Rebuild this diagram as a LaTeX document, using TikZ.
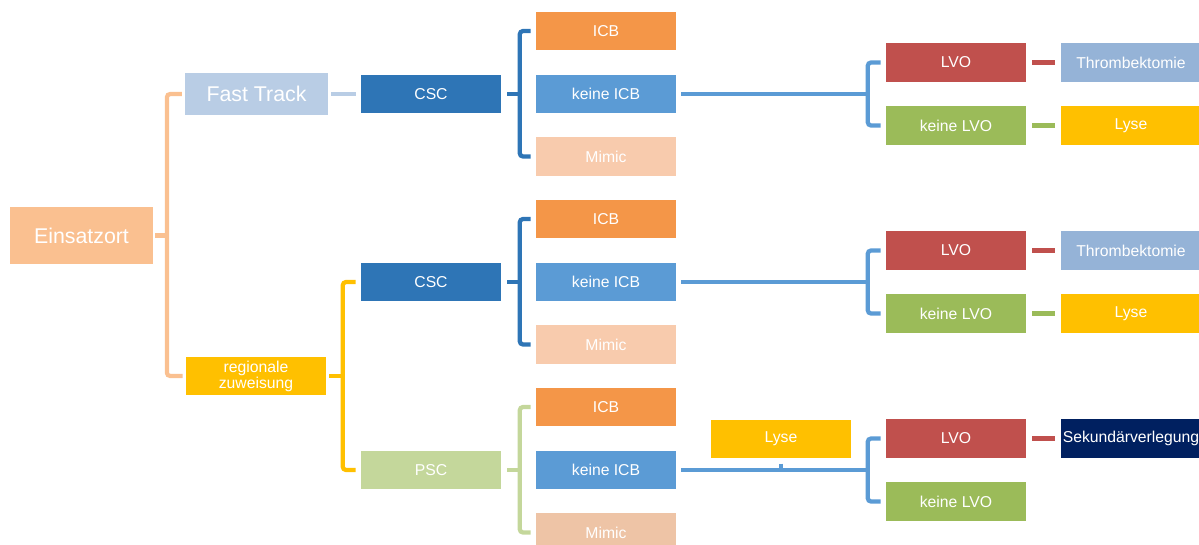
\documentclass[tikz,border=0pt]{standalone}
\usepackage{fontspec}
\setmainfont{Liberation Sans}
\usetikzlibrary{positioning}
\definecolor{peach}{RGB}{250,192,144}
\definecolor{skyfade}{RGB}{185,205,229}
\definecolor{gold}{RGB}{255,192,0}
\definecolor{deepblue}{RGB}{46,117,182}
\definecolor{midblue}{RGB}{91,155,213}
\definecolor{tangerine}{RGB}{244,150,72}
\definecolor{blush}{RGB}{248,203,173}
\definecolor{tan}{RGB}{238,196,166}
\definecolor{brick}{RGB}{192,80,77}
\definecolor{steel}{RGB}{149,179,215}
\definecolor{olive}{RGB}{155,187,89}
\definecolor{sage}{RGB}{196,215,155}
\definecolor{navy}{RGB}{0,32,96}

\begin{document}
\begin{tikzpicture}[x=0.75pt,y=-0.75pt,
    box/.style={minimum width=105pt,minimum height=29pt,inner sep=0pt,text=white,font=\fontsize{11.8}{12}\selectfont},
    big/.style={font=\fontsize{16}{18}\selectfont},
    bar/.style={line width=3.2pt,rounded corners=2.5pt}]
        \useasboundingbox (0,0) rectangle (1199,544);
        \node[box,big,fill=peach,minimum width=107pt,minimum height=43pt] (einsatz) at (81.5,235.5) {Einsatzort};
        \node[box,big,fill=skyfade,minimum width=107pt,minimum height=31.5pt] (fast) at (256.5,94) {Fast Track};
        \node[box,fill=gold,align=center] (regional) at (256,376) {regionale\\zuweisung};
        \draw[bar,peach] ([xshift=1.5pt]einsatz.east) -- ++(12,0);
        \draw[bar,peach] ([xshift=-2.25pt]fast.west) -- ++(-15,0) |- ([xshift=-2.25pt]regional.west);
        \foreach \g/\y/\hub/\hubfill/\mimfill in {1/94/CSC/deepblue/blush,2/282/CSC/deepblue/blush,3/470/PSC/sage/tan}{
          \node[box,fill=\hubfill] (hub\g) at (431,\y) {\hub};
          \node[box,fill=tangerine] (icb\g) at (606,\y-63) {ICB};
          \node[box,fill=midblue] (kicb\g) at (606,\y) {keine ICB};
          \node[box,fill=\mimfill] (mimic\g) at (606,\y+62.5) {Mimic};
          \draw[bar,\hubfill] ([xshift=4.5pt]hub\g.east) -- ++(13,0);
          \draw[bar,\hubfill] ([xshift=-3.75pt]icb\g.west) -- ++(-11,0) |- ([xshift=-3.75pt]mimic\g.west);
          \node[box,fill=brick] (lvo\g) at (956,\y-31.5) {LVO};
          \node[box,fill=olive] (nolvo\g) at (956,\y+31.5) {keine LVO};
          \draw[bar,midblue] ([xshift=3.75pt]kicb\g.east) -- ++(187,0);
          \draw[bar,midblue] ([xshift=-3.75pt]lvo\g.west) -- ++(-13,0) |- ([xshift=-3.75pt]nolvo\g.west);
        }
        \draw[bar,skyfade] ([xshift=2.25pt]fast.east) -- ([xshift=-3.75pt]hub1.west);
        \draw[bar,gold] ([xshift=2.25pt]regional.east) -- ++(14,0);
        \draw[bar,gold] ([xshift=-3.75pt]hub2.west) -- ++(-13,0) |- ([xshift=-3.75pt]hub3.west);
        \foreach \g/\y in {1/94,2/282}{
          \node[box,fill=steel] (thromb\g) at (1131,\y-31.5) {Thrombektomie};
          \node[box,fill=gold] (lyse\g) at (1131,\y+31.5) {Lyse};
          \draw[bar,brick] ([xshift=4.5pt]lvo\g.east) -- ([xshift=-4.5pt]thromb\g.west);
          \draw[bar,olive] ([xshift=4.5pt]nolvo\g.east) -- ([xshift=-4.5pt]lyse\g.west);
        }
        \node[box,fill=navy] (sek) at (1131,438.5) {Sekundärverlegung};
        \draw[bar,brick] ([xshift=4.5pt]lvo3.east) -- ([xshift=-4.5pt]sek.west);
        \node[box,fill=gold] (lyse) at (781,439) {Lyse};
        \draw[bar,midblue] ([yshift=-3.75pt]lyse.south) -- (lyse.south |- kicb3.east);
      \end{tikzpicture}
\end{document}
